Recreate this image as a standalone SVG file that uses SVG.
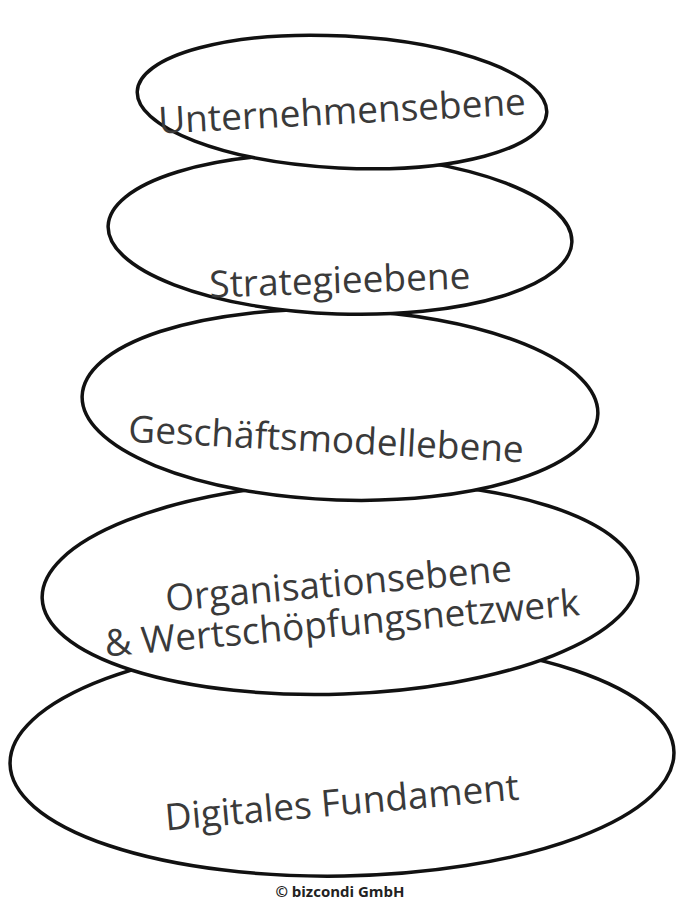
<svg xmlns="http://www.w3.org/2000/svg" width="683" height="919" viewBox="0 0 683 919">
<style>
.st{fill:#fff;stroke:#111;stroke-width:3.5}
.t{font-family:"Open Sans",sans-serif;font-size:37px;fill:#3a3a3a;text-anchor:middle}
</style>
<rect width="683" height="919" fill="#fff"/>
<g id="n5"><ellipse class="st" cx="342" cy="758" rx="332" ry="118" transform="rotate(-1 342 758)"/>
<text class="t" x="342" y="815" transform="rotate(-5 342 805)">Digitales Fundament</text></g>
<g id="n4"><ellipse class="st" cx="340" cy="588" rx="298" ry="106" transform="rotate(-2 340 588)"/>
<text class="t" x="340" y="596" transform="rotate(-5 340 600)"><tspan x="340">Organisationsebene</tspan><tspan x="340" dy="40">&amp; Wertschöpfungsnetzwerk</tspan></text></g>
<g id="n3"><ellipse class="st" cx="340" cy="405" rx="258" ry="95" transform="rotate(2 340 405)"/>
<text class="t" x="326" y="452" transform="rotate(3 326 442)">Geschäftsmodellebene</text></g>
<g id="n2"><ellipse class="st" cx="340" cy="234" rx="232" ry="80" transform="rotate(2 340 234)"/>
<text class="t" x="340" y="293" transform="rotate(-2 340 285)">Strategieebene</text></g>
<g id="n1"><ellipse class="st" cx="342" cy="102" rx="205" ry="66" transform="rotate(3 342 102)"/>
<text class="t" x="342" y="124" transform="rotate(-3 342 112)">Unternehmensebene</text></g>
<g id="connectors"/>
<text x="340" y="897" style="font-family:'Open Sans',sans-serif;font-size:15px;font-weight:bold;fill:#222;text-anchor:middle">© bizcondi GmbH</text>
</svg>
